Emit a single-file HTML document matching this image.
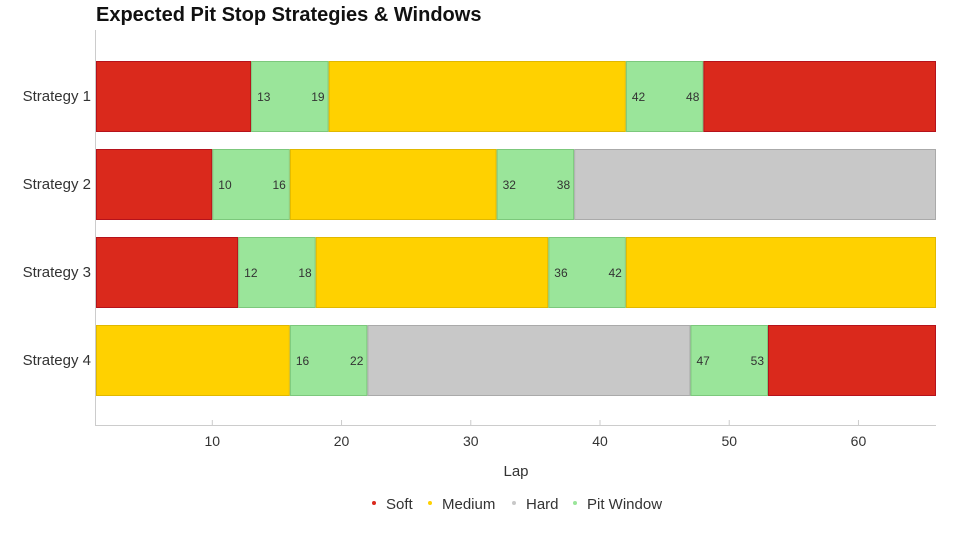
<!DOCTYPE html>
<html><head><meta charset="utf-8"><style>
body{margin:0;background:#fff;font-family:"Liberation Sans",sans-serif}
svg text{font-family:"Liberation Sans",sans-serif}
</style></head><body>
<svg id="chart" width="960" height="540" viewBox="0 0 960 540">
<text x="96" y="21" font-size="20" font-weight="bold" fill="#111">Expected Pit Stop Strategies &amp; Windows</text>
<g id="axes"></g><g id="bars"></g>
<text x="516" y="476" font-size="15" fill="#333" text-anchor="middle">Lap</text>
<g>
<g><circle cx="374" cy="503" r="2" fill="#da291c"/><text x="386" y="509" font-size="15" fill="#333">Soft</text></g>
<g><circle cx="430" cy="503" r="2" fill="#ffd100"/><text x="442" y="509" font-size="15" fill="#333">Medium</text></g>
<g><circle cx="514" cy="503" r="2" fill="#c8c8c8"/><text x="526" y="509" font-size="15" fill="#333">Hard</text></g>
<g><circle cx="575" cy="503" r="2" fill="#9ae59a"/><text x="587" y="509" font-size="15" fill="#333">Pit Window</text></g>
</g>
</svg>
<script>
const strategies=["Strategy 1","Strategy 2","Strategy 3","Strategy 4"];
const segStarts=[[1,13,19,42,48],[1,10,16,32,38],[1,12,18,36,42],[1,16,22,47,53]];
const segEnds=[[13,19,42,48,66],[10,16,32,38,66],[12,18,36,42,66],[16,22,47,53,66]];
const segTypes=[["soft","pit","medium","pit","soft"],["soft","pit","medium","pit","hard"],["soft","pit","medium","pit","medium"],["medium","pit","hard","pit","soft"]];
const xTicks=[10,20,30,40,50,60];
const xMin=1,xMax=66;
const NS="http://www.w3.org/2000/svg";
const fills={soft:"#da291c",medium:"#ffd100",hard:"#c8c8c8",pit:"#9ae59a"};
const strokes={soft:"#b5121b",medium:"#e0b800",hard:"#aaaaaa",pit:"#7cc87c"};
const x=v=>96+(v-xMin)/(xMax-xMin)*(936-96);
const y=i=>61+i*88;
const bh=70;
function mk(t,a,p){const e=document.createElementNS(NS,t);for(const k in a)e.setAttribute(k,a[k]);p.appendChild(e);return e;}
const ax=document.getElementById("axes"),bars=document.getElementById("bars");
let l=mk("line",{x1:95.5,y1:30,x2:95.5,y2:425,stroke:"#ccc"},ax);


l=mk("line",{x1:95,y1:425.5,x2:936,y2:425.5,stroke:"#ccc"},ax);


xTicks.forEach(t=>{
 const tk=mk("line",{x1:x(t),y1:420,x2:x(t),y2:425,stroke:"#ccc"},ax);
 
 
 const tl=mk("text",{x:x(t),y:446,"font-size":14,fill:"#333","text-anchor":"middle"},ax);
 tl.textContent=t;
 
 
});
strategies.forEach((s,i)=>{
 const lab=mk("text",{x:91,y:y(i)+bh/2+5,"font-size":15,fill:"#333","text-anchor":"end"},ax);
 lab.textContent=s;
 
 
 segStarts[i].forEach((st,j)=>{
  const en=segEnds[i][j],ty=segTypes[i][j];
  const r=mk("rect",{x:x(st)+0.5,y:y(i)+0.5,width:x(en)-x(st)-1,height:bh,fill:fills[ty],stroke:strokes[ty],"stroke-width":1},bars);
  
  
  if(ty==="pit"){
   const a=mk("text",{x:x(st)+6,y:y(i)+bh/2+5,"font-size":12,fill:"#333"},bars);
   a.textContent=st;
   
   
   const b=mk("text",{x:x(en)-4,y:y(i)+bh/2+5,"font-size":12,fill:"#333","text-anchor":"end"},bars);
   b.textContent=en;
   
   
  }
 });
});
</script>
</body></html>
